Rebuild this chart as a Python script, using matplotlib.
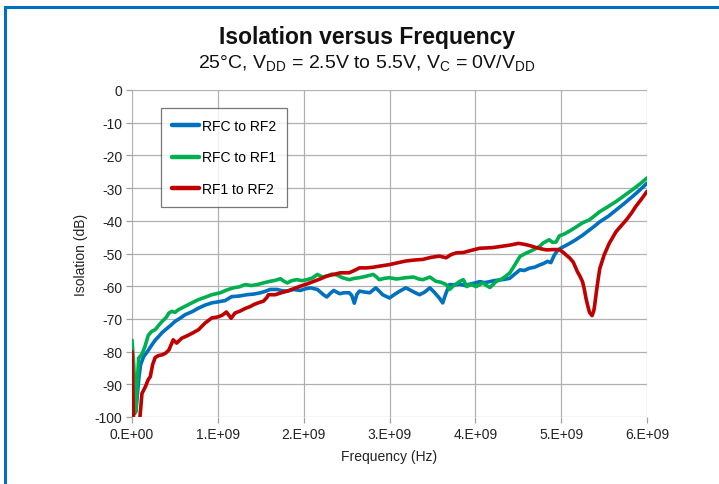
import matplotlib
matplotlib.use("Agg")
import matplotlib.pyplot as plt
from matplotlib.lines import Line2D
import numpy as np

plt.rcParams['font.family'] = ['Liberation Sans', 'DejaVu Sans']
plt.rcParams['mathtext.fontset'] = 'custom'
plt.rcParams['mathtext.rm'] = 'Liberation Sans'
plt.rcParams['mathtext.it'] = 'Liberation Sans:italic'
plt.rcParams['mathtext.bf'] = 'Liberation Sans:bold'
plt.rcParams['axes.unicode_minus'] = False

# ---- data (frequency in GHz, isolation in dB) ----
blue_f = [0.03, 0.05, 0.08, 0.10, 0.136, 0.18, 0.23, 0.27, 0.31, 0.35, 0.39, 0.45, 0.50, 0.56, 0.62,
          0.70, 0.775, 0.85, 0.93, 1.00, 1.085, 1.16, 1.25, 1.34, 1.42, 1.50, 1.56, 1.61, 1.69, 1.75,
          1.81, 1.88, 1.96, 2.02, 2.08, 2.16, 2.23, 2.27, 2.31, 2.35, 2.42, 2.47, 2.53, 2.56, 2.59,
          2.62, 2.65, 2.71, 2.77, 2.84, 2.88, 2.92, 3.00, 3.06, 3.12, 3.19, 3.25, 3.30, 3.35, 3.41,
          3.47, 3.52, 3.58, 3.62, 3.64, 3.66, 3.70, 3.76, 3.82, 3.88, 3.93, 4.00, 4.05, 4.11, 4.17,
          4.22, 4.28, 4.34, 4.40, 4.45, 4.52, 4.57, 4.63, 4.69, 4.75, 4.80, 4.84, 4.88, 4.92, 4.96,
          5.00, 5.05, 5.10, 5.17, 5.25, 5.33, 5.39, 5.45, 5.55, 5.64, 5.73, 5.83, 5.92, 6.00]
blue_db = [-99, -97, -88, -84, -81.5, -80, -78, -76.5, -75.4, -74.2, -73.3, -72, -70.8, -69.8, -68.7,
           -67.8, -66.7, -65.8, -65.1, -64.8, -64.4, -63.2, -63, -62.6, -62.4, -62, -61.5, -61, -61, -61.4,
           -61.5, -61, -61.3, -60.8, -60.5, -61, -62.6, -63.3, -62.2, -61.3, -62.3, -62, -62, -62.8, -65.2,
           -62.5, -61.5, -61.8, -62, -60.5, -61.5, -62.6, -63.6, -62.5, -61.5, -60.5, -61.3, -62, -62.6, -61.8,
           -60.5, -61.8, -63.6, -65.1, -63.5, -62, -59.5, -59.6, -59.4, -59.8, -59.4, -59, -58.6, -58.9, -58.6,
           -58.3, -58.1, -57.9, -57.6, -56.5, -55, -55.2, -54.5, -54.2, -53.5, -53, -52.4, -52.8, -50.5, -49,
           -48.3, -47.6, -46.9, -45.8, -44.4, -42.8, -41.6, -40.3, -38.6, -36.7, -34.8, -32.6, -30.5, -28.5]

green_f = [0.0, 0.02, 0.045, 0.06, 0.078, 0.116, 0.15, 0.19, 0.23, 0.27, 0.31, 0.35, 0.40, 0.43, 0.465,
           0.50, 0.54, 0.60, 0.66, 0.72, 0.775, 0.85, 0.93, 1.03, 1.10, 1.18, 1.25, 1.32, 1.39, 1.46,
           1.53, 1.61, 1.67, 1.73, 1.77, 1.81, 1.86, 1.92, 1.98, 2.04, 2.10, 2.16, 2.22, 2.27, 2.33,
           2.39, 2.45, 2.53, 2.59, 2.65, 2.72, 2.81, 2.85, 2.88, 2.94, 3.00, 3.08, 3.19, 3.28, 3.34,
           3.39, 3.47, 3.54, 3.60, 3.66, 3.70, 3.74, 3.82, 3.86, 3.90, 3.95, 4.01, 4.05, 4.09, 4.13,
           4.17, 4.21, 4.24, 4.32, 4.40, 4.46, 4.52, 4.59, 4.65, 4.71, 4.75, 4.79, 4.86, 4.90, 4.94,
           4.98, 5.04, 5.10, 5.18, 5.25, 5.33, 5.45, 5.55, 5.64, 5.73, 5.83, 5.92, 6.00]
green_db = [-76.5, -84, -98.5, -90, -82, -80.8, -78.5, -75, -73.8, -73.3, -72, -70.8, -69.5, -68.2, -67.7,
            -68, -67.2, -66.4, -65.6, -64.8, -64.1, -63.4, -62.6, -62, -61.2, -60.5, -60.2, -59.5, -59.8, -59.5,
            -59, -58.5, -58.2, -57.7, -58.5, -59, -58.3, -58, -58.3, -58, -57.5, -56.4, -57.2, -56.9, -56.3,
            -56.6, -57.4, -58, -57.6, -57.4, -57, -56.4, -57.2, -58, -57.6, -57.4, -57.8, -57.4, -57.2, -57.8,
            -58, -57.2, -58.5, -58.8, -59.5, -61, -60, -58.5, -58, -60.1, -59.5, -60.1, -59.5, -59, -59.8,
            -60.4, -59.4, -58.6, -57.6, -56, -53.5, -50.9, -49.9, -49.2, -48.4, -47.8, -46.8, -45.8, -46.6, -46.5,
            -44.6, -44, -43.1, -41.8, -40.6, -39.7, -37.2, -35.6, -34.1, -32.4, -30.5, -28.7, -26.9]

red_f = [0.0, 0.02, 0.08, 0.116, 0.155, 0.19, 0.213, 0.24, 0.27, 0.31, 0.35, 0.39, 0.43, 0.48, 0.52,
         0.58, 0.64, 0.70, 0.775, 0.85, 0.93, 1.00, 1.05, 1.10, 1.155, 1.20, 1.26, 1.32, 1.38, 1.42,
         1.48, 1.53, 1.57, 1.59, 1.67, 1.74, 1.81, 1.88, 1.96, 2.04, 2.12, 2.20, 2.27, 2.35, 2.43,
         2.53, 2.59, 2.65, 2.73, 2.81, 2.90, 3.00, 3.10, 3.19, 3.29, 3.39, 3.48, 3.58, 3.66, 3.72,
         3.78, 3.86, 3.93, 4.05, 4.13, 4.20, 4.28, 4.36, 4.43, 4.50, 4.55, 4.59, 4.65, 4.71, 4.77,
         4.83, 4.90, 4.98, 5.03, 5.06, 5.10, 5.14, 5.19, 5.22, 5.25, 5.27, 5.29, 5.31, 5.33, 5.36,
         5.38, 5.39, 5.41, 5.43, 5.45, 5.50, 5.56, 5.64, 5.70, 5.76, 5.82, 5.87, 5.94, 6.00]
red_db = [-80, -104, -104, -92.8, -90.8, -88.5, -87.7, -84, -81.8, -81.2, -81, -80.5, -79.5, -76.4, -77.4,
          -75.9, -75.2, -74.4, -73.3, -71.3, -69.7, -69.4, -68.9, -67.9, -69.8, -68.2, -67.6, -66.8, -66.2, -65.6,
          -65, -64.6, -63.5, -62.6, -62.6, -62, -61.5, -60.8, -60, -59.3, -58.5, -57.7, -56.9, -56.4, -55.9,
          -55.9, -55.2, -54.4, -54.4, -54.2, -53.8, -53.4, -52.8, -52.3, -52, -51.8, -51.2, -50.8, -51.3, -50.3,
          -49.8, -49.7, -49.2, -48.4, -48.3, -48.2, -47.9, -47.6, -47.3, -46.9, -47.1, -47.3, -47.7, -48.2, -48.6,
          -48.9, -48.8, -48.8, -49.8, -50.5, -51.4, -52.6, -55.6, -57, -58.7, -61, -63.8, -66, -68, -69,
          -67.5, -65.9, -61.8, -58, -54.6, -50.5, -46.9, -43.3, -41.5, -39.7, -37.6, -35.6, -33.2, -31]

series_labels = ["RFC to RF2", "RFC to RF1", "RF1 to RF2"]
series_colors = ["#0070C0", "#00B050", "#C00000"]
x_ticks_hz = [0, 1e9, 2e9, 3e9, 4e9, 5e9, 6e9]
x_tick_labels = ["0.E+00", "1.E+09", "2.E+09", "3.E+09", "4.E+09", "5.E+09", "6.E+09"]
y_ticks = list(range(-100, 1, 10))

title = "Isolation versus Frequency"
subtitle = r"25°C, V$_{\mathrm{DD}}$ = 2.5V to 5.5V, V$_{\mathrm{C}}$ = 0V/V$_{\mathrm{DD}}$"

# ---- figure ----
W, H = 719, 485
fig = plt.figure(figsize=(W / 100, H / 100), dpi=100)
ax = fig.add_axes([132 / W, 1 - 418 / H, (647 - 132) / W, (418 - 91) / H])

series = [(blue_f, blue_db), (green_f, green_db), (red_f, red_db)]
for (f, d), lab, col in zip(series, series_labels, series_colors):
    ax.plot(np.array(f) * 1e9, d, color=col, lw=2.6, label=lab, solid_joinstyle='round',
            solid_capstyle='round', clip_on=True)

ax.set_xlim(0, 6e9)
ax.set_ylim(-100, 0)
ax.set_xticks(x_ticks_hz)
ax.set_xticklabels(x_tick_labels)
ax.set_yticks(y_ticks)
ax.grid(True, color="#B0B0B0", lw=0.9)
ax.set_axisbelow(True)
for s in ax.spines.values():
    s.set_visible(False)
ax.tick_params(axis='both', length=4, width=0.9, labelsize=10, pad=3,
               colors="#A0A0A0", labelcolor="#222222")

ax.set_xlabel("Frequency (Hz)", fontsize=10, labelpad=6, color="#222222")
ax.set_ylabel("Isolation (dB)", fontsize=10, labelpad=5, color="#222222")

leg = ax.legend(loc='upper left', bbox_to_anchor=((161 - 132) / 515, (418 - 109) / 327),
                borderaxespad=0, fontsize=10, frameon=True, fancybox=False, handlelength=1.9,
                handletextpad=0.25, labelspacing=1.25, borderpad=0.8)
leg.get_frame().set_edgecolor("#555555")
leg.get_frame().set_linewidth(0.9)
for h in leg.get_lines():
    h.set_linewidth(3.2)

fig.text(367 / W, 1 - 38 / H, title, ha='center', va='center', fontsize=16.5, fontweight='bold',
         color="#111111")
fig.text(367 / W, 1 - 63 / H, subtitle, ha='center', va='center', fontsize=14, color="#111111")

# blue frame lines
fig.add_artist(Line2D([4.5 / W, 1], [1 - 8 / H, 1 - 8 / H], color="#0070C0", lw=2.2,
                      transform=fig.transFigure))
fig.add_artist(Line2D([4.5 / W, 4.5 / W], [0, 1 - 8 / H], color="#0070C0", lw=2.2,
                      transform=fig.transFigure))

fig.savefig("out.png", dpi=100)
